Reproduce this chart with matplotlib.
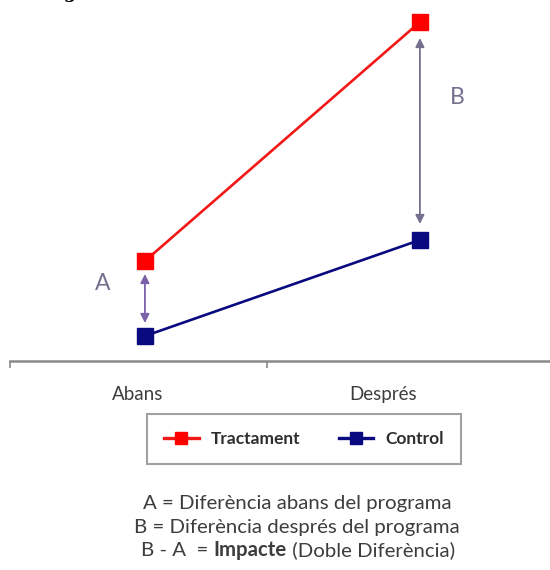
import matplotlib
matplotlib.use("Agg")
import matplotlib.pyplot as plt
from matplotlib.lines import Line2D

# Data
periods = ["Abans", "Després"]
tractament = [10.0, 33.9]
control = [2.5, 12.1]
diff_labels = ["A", "B"]
notes = [
    "A = Diferència abans del programa",
    "B = Diferència després del programa",
]
impact_parts = ["B - A  = ", "Impacte", " (Doble Diferència)"]

RED = "#f21818"
NAVY = "#0a0a80"
TXT = "#3d3d3d"
PURPLE = "#7a62a8"
PURPLE_GREY = "#74708e"

plt.rcParams["font.family"] = ["Lato", "DejaVu Sans"]

fig = plt.figure(figsize=(5.5, 5.7), dpi=100)
ax = fig.add_axes([10 / 550, (570 - 361) / 570, 540 / 550, 361 / 570])

# x positions of the two periods and of their labels (in period-width units)
x = [0.525, 1.595]
x_lab = [0.497, 1.45]

ax.plot(x, tractament, color=RED, lw=1.9, marker="s", ms=11.5,
        markerfacecolor="#ff0000", markeredgecolor="#ff0000", zorder=3,
        label="Tractament")
ax.plot(x, control, color=NAVY, lw=1.9, marker="s", ms=11.5,
        markerfacecolor=NAVY, markeredgecolor=NAVY, zorder=3,
        label="Control")

# difference arrows
ax.annotate("", xy=(x[0], control[0] + 1.3), xytext=(x[0], tractament[0] - 1.3),
            arrowprops=dict(arrowstyle="<|-|>", color=PURPLE, lw=1.3,
                            mutation_scale=13, shrinkA=0, shrinkB=0))
ax.annotate("", xy=(x[1], control[1] + 1.6), xytext=(x[1], tractament[1] - 1.6),
            arrowprops=dict(arrowstyle="<|-|>", color=PURPLE_GREY, lw=1.3,
                            mutation_scale=13, shrinkA=0, shrinkB=0))
ax.text(x[0] - 0.163, (tractament[0] + control[0]) / 2 + 1.5, diff_labels[0],
        color=PURPLE_GREY, fontsize=16.5, ha="center", va="center")
ax.text(x[1] + 0.145, 26.3, diff_labels[1],
        color=PURPLE_GREY, fontsize=16.5, ha="center", va="center")

ax.set_xlim(0, 540 / 257)
ax.set_ylim(0, 36.1)
for s in ["top", "right", "left"]:
    ax.spines[s].set_visible(False)
ax.spines["bottom"].set_color("#8a8a8a")
ax.spines["bottom"].set_linewidth(1.8)
ax.set_yticks([])
ax.set_xticks([0, 1])
ax.set_xticklabels([])
ax.tick_params(axis="x", which="major", direction="out", length=5,
               width=1.2, color="#8a8a8a")
ax.set_xticks(x_lab, minor=True)
ax.set_xticklabels(periods, minor=True, fontsize=13.5, color=TXT)
ax.tick_params(axis="x", which="minor", length=0, pad=18)
ax.patch.set_alpha(0)

# Legend
handles = [
    Line2D([], [], color=RED, lw=2.4, marker="s", ms=9,
           markerfacecolor="#ff0000", markeredgecolor="#ff0000"),
    Line2D([], [], color=NAVY, lw=2.4, marker="s", ms=9,
           markerfacecolor=NAVY, markeredgecolor=NAVY),
]
leg = fig.legend(handles, ["Tractament", "Control"], ncol=2,
                 loc="center", bbox_to_anchor=(304 / 550, (570 - 439) / 570),
                 frameon=True, fancybox=False, edgecolor="#8a8a8a",
                 prop=dict(family=["Lato", "DejaVu Sans"], weight="bold", size=12.5),
                 handlelength=2.0, handletextpad=0.7, columnspacing=2.2,
                 borderpad=1.0)
leg.get_frame().set_linewidth(1.5)
for t in leg.get_texts():
    t.set_color("#2e2e2e")

# Notes below the chart
cx = 297 / 550
fs_notes = 14.7
fig.text(cx, (570 - 504) / 570, notes[0], ha="center", va="center",
         fontsize=fs_notes, color=TXT)
fig.text(cx, (570 - 527) / 570, notes[1], ha="center", va="center",
         fontsize=fs_notes, color=TXT)

renderer = fig.canvas.get_renderer()
weights = ["normal", "bold", "normal"]
y3 = (570 - 550) / 570
pieces = []
for part, w in zip(impact_parts, weights):
    t = fig.text(0, y3, part, ha="left", va="center", fontsize=fs_notes,
                 color=TXT, fontweight=w)
    pieces.append(t)
widths = [p.get_window_extent(renderer).width for p in pieces]
total = sum(widths)
left = 298 - total / 2
for p, w in zip(pieces, widths):
    p.set_x(left / 550)
    left += w

# Title, mostly outside the top edge of the canvas
fig.text(44 / 550, 1 + 2 / 570, "Figura", fontsize=13, fontweight="bold",
         family="DejaVu Serif", ha="left", va="baseline", color="black")

fig.savefig("out.png", dpi=100)
